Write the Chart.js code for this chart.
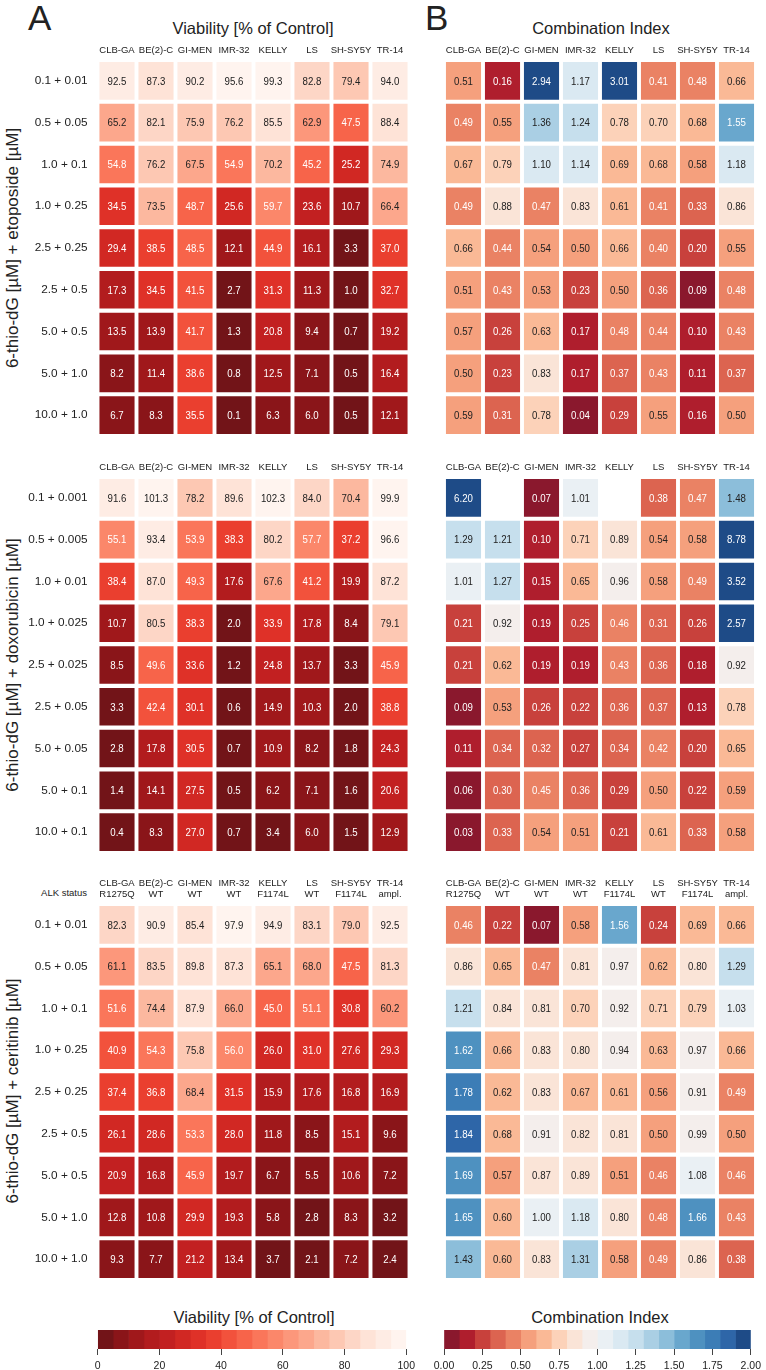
<!DOCTYPE html>
<html>
<head>
<meta charset="utf-8">
<script src="https://cdn.jsdelivr.net/npm/chart.js@4.4.1/dist/chart.umd.min.js"></script>
<style>
  body { margin: 0; background: #fff; width: 766px; height: 1370px; position: relative; overflow: hidden;
         font-family: 'Liberation Sans', Arial, sans-serif; color: #222; }
  .lbl { position: absolute; white-space: nowrap; line-height: 1; }
  .rot { position: absolute; white-space: nowrap; line-height: 1; font-size: 17px; transform: translate(-50%, -50%) rotate(-90deg); }
  canvas { position: absolute; }
</style>
</head>
<body>
<div class="lbl" style="left:28px;top:0;font-size:35px;">A</div>
<div class="lbl" style="left:425px;top:0;font-size:35px;">B</div>
<div class="lbl" style="left:253px;top:20px;font-size:16.5px;transform:translateX(-50%);">Viability [% of Control]</div>
<div class="lbl" style="left:601px;top:20px;font-size:16.5px;transform:translateX(-50%);">Combination Index</div>
<div class="rot" style="left:12px;top:248px;">6-thio-dG [µM] + etoposide [µM]</div>
<div class="rot" style="left:12px;top:665px;">6-thio-dG [µM] + doxorubicin [µM]</div>
<div class="rot" style="left:12px;top:1091px;">6-thio-dG [µM] + ceritinib [µM]</div>
<div class="lbl" style="left:87px;top:888px;font-size:9.5px;transform:translateX(-100%);">ALK status</div>
<div class="lbl" style="left:254px;top:1309px;font-size:16.5px;transform:translateX(-50%);">Viability [% of Control]</div>
<div class="lbl" style="left:600px;top:1309px;font-size:16.5px;transform:translateX(-50%);">Combination Index</div>

<canvas id="etoVia" width="420" height="424" style="left:0;top:30px"></canvas>
<canvas id="etoCI" width="346" height="424" style="left:420px;top:30px"></canvas>
<canvas id="doxVia" width="420" height="424" style="left:0;top:447px"></canvas>
<canvas id="doxCI" width="346" height="424" style="left:420px;top:447px"></canvas>
<canvas id="cerVia" width="420" height="439" style="left:0;top:859px"></canvas>
<canvas id="cerCI" width="346" height="439" style="left:420px;top:859px"></canvas>
<canvas id="viaBar" width="420" height="45" style="left:0;top:1325px"></canvas>
<canvas id="ciBar" width="346" height="45" style="left:420px;top:1325px"></canvas>

<script>
// cell lines
const cellLines = ['CLB-GA', 'BE(2)-C', 'GI-MEN', 'IMR-32', 'KELLY', 'LS', 'SH-SY5Y', 'TR-14'];
const alkStatus = ['R1275Q', 'WT', 'WT', 'WT', 'F1174L', 'WT', 'F1174L', 'ampl.'];

// dose combinations (6-thio-dG + partner)
const etoDoses = ['0.1 + 0.01', '0.5 + 0.05', '1.0 + 0.1', '1.0 + 0.25', '2.5 + 0.25', '2.5 + 0.5', '5.0 + 0.5', '5.0 + 1.0', '10.0 + 1.0'];
const doxDoses = ['0.1 + 0.001', '0.5 + 0.005', '1.0 + 0.01', '1.0 + 0.025', '2.5 + 0.025', '2.5 + 0.05', '5.0 + 0.05', '5.0 + 0.1', '10.0 + 0.1'];
const cerDoses = ['0.1 + 0.01', '0.5 + 0.05', '1.0 + 0.1', '1.0 + 0.25', '2.5 + 0.25', '2.5 + 0.5', '5.0 + 0.5', '5.0 + 1.0', '10.0 + 1.0'];

// viability [% of control], one row per dose
const etoViability = [
    [92.5, 87.3, 90.2, 95.6, 99.3, 82.8, 79.4, 94.0],
    [65.2, 82.1, 75.9, 76.2, 85.5, 62.9, 47.5, 88.4],
    [54.8, 76.2, 67.5, 54.9, 70.2, 45.2, 25.2, 74.9],
    [34.5, 73.5, 48.7, 25.6, 59.7, 23.6, 10.7, 66.4],
    [29.4, 38.5, 48.5, 12.1, 44.9, 16.1, 3.3, 37.0],
    [17.3, 34.5, 41.5, 2.7, 31.3, 11.3, 1.0, 32.7],
    [13.5, 13.9, 41.7, 1.3, 20.8, 9.4, 0.7, 19.2],
    [8.2, 11.4, 38.6, 0.8, 12.5, 7.1, 0.5, 16.4],
    [6.7, 8.3, 35.5, 0.1, 6.3, 6.0, 0.5, 12.1]
];
const doxViability = [
    [91.6, 101.3, 78.2, 89.6, 102.3, 84.0, 70.4, 99.9],
    [55.1, 93.4, 53.9, 38.3, 80.2, 57.7, 37.2, 96.6],
    [38.4, 87.0, 49.3, 17.6, 67.6, 41.2, 19.9, 87.2],
    [10.7, 80.5, 38.3, 2.0, 33.9, 17.8, 8.4, 79.1],
    [8.5, 49.6, 33.6, 1.2, 24.8, 13.7, 3.3, 45.9],
    [3.3, 42.4, 30.1, 0.6, 14.9, 10.3, 2.0, 38.8],
    [2.8, 17.8, 30.5, 0.7, 10.9, 8.2, 1.8, 24.3],
    [1.4, 14.1, 27.5, 0.5, 6.2, 7.1, 1.6, 20.6],
    [0.4, 8.3, 27.0, 0.7, 3.4, 6.0, 1.5, 12.9]
];
const cerViability = [
    [82.3, 90.9, 85.4, 97.9, 94.9, 83.1, 79.0, 92.5],
    [61.1, 83.5, 89.8, 87.3, 65.1, 68.0, 47.5, 81.3],
    [51.6, 74.4, 87.9, 66.0, 45.0, 51.1, 30.8, 60.2],
    [40.9, 54.3, 75.8, 56.0, 26.0, 31.0, 27.6, 29.3],
    [37.4, 36.8, 68.4, 31.5, 15.9, 17.6, 16.8, 16.9],
    [26.1, 28.6, 53.3, 28.0, 11.8, 8.5, 15.1, 9.6],
    [20.9, 16.8, 45.9, 19.7, 6.7, 5.5, 10.6, 7.2],
    [12.8, 10.8, 29.9, 19.3, 5.8, 2.8, 8.3, 3.2],
    [9.3, 7.7, 21.2, 13.4, 3.7, 2.1, 7.2, 2.4]
];

// combination index, one row per dose (null = not determined)
const etoCI = [
    [0.51, 0.16, 2.94, 1.17, 3.01, 0.41, 0.48, 0.66],
    [0.49, 0.55, 1.36, 1.24, 0.78, 0.70, 0.68, 1.55],
    [0.67, 0.79, 1.10, 1.14, 0.69, 0.68, 0.58, 1.18],
    [0.49, 0.88, 0.47, 0.83, 0.61, 0.41, 0.33, 0.86],
    [0.66, 0.44, 0.54, 0.50, 0.66, 0.40, 0.20, 0.55],
    [0.51, 0.43, 0.53, 0.23, 0.50, 0.36, 0.09, 0.48],
    [0.57, 0.26, 0.63, 0.17, 0.48, 0.44, 0.10, 0.43],
    [0.50, 0.23, 0.83, 0.17, 0.37, 0.43, 0.11, 0.37],
    [0.59, 0.31, 0.78, 0.04, 0.29, 0.55, 0.16, 0.50]
];
const doxCI = [
    [6.20, null, 0.07, 1.01, null, 0.38, 0.47, 1.48],
    [1.29, 1.21, 0.10, 0.71, 0.89, 0.54, 0.58, 8.78],
    [1.01, 1.27, 0.15, 0.65, 0.96, 0.58, 0.49, 3.52],
    [0.21, 0.92, 0.19, 0.25, 0.46, 0.31, 0.26, 2.57],
    [0.21, 0.62, 0.19, 0.19, 0.43, 0.36, 0.18, 0.92],
    [0.09, 0.53, 0.26, 0.22, 0.36, 0.37, 0.13, 0.78],
    [0.11, 0.34, 0.32, 0.27, 0.34, 0.42, 0.20, 0.65],
    [0.06, 0.30, 0.45, 0.36, 0.29, 0.50, 0.22, 0.59],
    [0.03, 0.33, 0.54, 0.51, 0.21, 0.61, 0.33, 0.58]
];
const cerCI = [
    [0.46, 0.22, 0.07, 0.58, 1.56, 0.24, 0.69, 0.66],
    [0.86, 0.65, 0.47, 0.81, 0.97, 0.62, 0.80, 1.29],
    [1.21, 0.84, 0.81, 0.70, 0.92, 0.71, 0.79, 1.03],
    [1.62, 0.66, 0.83, 0.80, 0.94, 0.63, 0.97, 0.66],
    [1.78, 0.62, 0.83, 0.67, 0.61, 0.56, 0.91, 0.49],
    [1.84, 0.68, 0.91, 0.82, 0.81, 0.50, 0.99, 0.50],
    [1.69, 0.57, 0.87, 0.89, 0.51, 0.46, 1.08, 0.46],
    [1.65, 0.60, 1.00, 1.18, 0.80, 0.48, 1.66, 0.43],
    [1.43, 0.60, 0.83, 1.31, 0.58, 0.49, 0.86, 0.38]
];

// colour bar ticks
const viaTicks = [0, 20, 40, 60, 80, 100];
const ciTicks = [0, 0.25, 0.5, 0.75, 1, 1.25, 1.5, 1.75, 2];

// 20-step palettes
const redColors = ['#721418', '#8a1519', '#a0181b', '#b21c1e', '#c22021', '#d12823', '#df3128', '#ea3f2f', '#f2523c', '#f7644a',
                   '#fa765a', '#fb876a', '#fc977b', '#fca78c', '#fcb89f', '#fdc8b3', '#fdd6c6', '#fee3d7', '#feece4', '#fff4ef'];
const rdbuColors = ['#8a182d', '#af1e2d', '#c8413c', '#dc6450', '#ea8264', '#f5a07d', '#fab996', '#fcd2b9', '#fae4d7', '#f4eeec',
                    '#eaf0f4', '#dae9f2', '#c6dfed', '#aacfe4', '#8cbeda', '#69a7cd', '#4e91c0', '#3c7db6', '#2e66a8', '#1e4b87'];

const REGULAR = "'Liberation Sans', Arial, sans-serif";
Chart.defaults.font.family = REGULAR;
Chart.defaults.color = '#222';

const viaScale = { min: 0, max: 100, colors: redColors, digits: 1, light: v => v < 60 };
const ciScale = { min: 0, max: 2, colors: rdbuColors, digits: 2, light: v => v < 0.5 || v >= 1.5 };

function binColor(v, sc) {
    const n = sc.colors.length;
    const step = (sc.max - sc.min) / n;
    let k = Math.floor((v - sc.min) / step + 1e-6);
    k = Math.max(0, Math.min(n - 1, k));
    return sc.colors[k];
}

// writes the value into each cell (condensed, like the original figure)
const cellText = {
    id: 'cellText',
    afterDatasetsDraw(chart, args, opts) {
        const ctx = chart.ctx;
        chart.data.datasets.forEach((ds, i) => {
            chart.getDatasetMeta(i).data.forEach((el, j) => {
                const v = ds.values[j];
                if (v === null) return;
                ctx.save();
                ctx.font = '11.8px ' + REGULAR;
                ctx.textAlign = 'center';
                ctx.textBaseline = 'middle';
                ctx.fillStyle = opts.scale.light(v) ? '#fff' : '#222';
                ctx.translate(el.x, (el.y + el.base) / 2 + 0.5);
                ctx.scale(0.82, 1);
                ctx.fillText(v.toFixed(opts.scale.digits), 0, 0);
                ctx.restore();
            });
        });
    }
};

function heatmap(id, rows, values, sc, opts) {
    const cols = opts.alk ? cellLines.map((c, j) => [c, alkStatus[j]]) : cellLines;
    const datasets = values.map((row, i) => ({
        values: row,
        data: row.map(v => v === null ? null : [i - 0.45, i + 0.45]),
        backgroundColor: row.map(v => v === null ? 'rgba(0,0,0,0)' : binColor(v, sc)),
        grouped: false,
        barPercentage: 0.9,
        categoryPercentage: 1
    }));
    new Chart(document.getElementById(id), {
        type: 'bar',
        data: { labels: cols, datasets: datasets },
        plugins: [cellText],
        options: {
            responsive: false,
            animation: false,
            layout: { padding: { left: opts.showRows ? 0 : 24, right: opts.showRows ? 10.5 : 10, top: 0, bottom: 18 } },
            plugins: { legend: { display: false }, tooltip: { enabled: false }, cellText: { scale: sc } },
            scales: {
                x: {
                    type: 'category',
                    position: 'top',
                    grid: { display: false, drawTicks: false },
                    border: { display: false },
                    ticks: { font: { size: 9.5 }, color: '#222', padding: 4, maxRotation: 0, autoSkip: false },
                    afterFit: s => { s.height = opts.header; }
                },
                y: {
                    type: 'linear',
                    display: opts.showRows,
                    reverse: true,
                    min: -0.5,
                    max: rows.length - 0.5,
                    grid: { display: false, drawTicks: false },
                    border: { display: false },
                    afterBuildTicks: s => { s.ticks = rows.map((r, i) => ({ value: i })); },
                    ticks: { font: { size: 11.8 }, color: '#222', padding: 10, callback: v => rows[v] },
                    afterFit: s => { if (opts.showRows) s.width = 97.5; }
                }
            }
        }
    });
}

function colorbar(id, sc, ticks, padLeft, padRight) {
    const n = sc.colors.length;
    const step = (sc.max - sc.min) / n;
    const datasets = sc.colors.map((c, k) => ({
        data: [[sc.min + k * step, sc.min + (k + 1) * step]],
        backgroundColor: c,
        grouped: false,
        barPercentage: 1,
        categoryPercentage: 1
    }));
    new Chart(document.getElementById(id), {
        type: 'bar',
        data: { labels: [''], datasets: datasets },
        options: {
            indexAxis: 'y',
            responsive: false,
            animation: false,
            layout: { padding: { left: padLeft, right: padRight, top: 5, bottom: 0 } },
            plugins: { legend: { display: false }, tooltip: { enabled: false } },
            scales: {
                y: { display: false },
                x: {
                    type: 'linear',
                    min: sc.min,
                    max: sc.max,
                    grid: { drawOnChartArea: false, drawTicks: true, tickLength: 6, color: '#444' },
                    border: { display: false },
                    afterBuildTicks: s => { s.ticks = ticks.map(v => ({ value: v })); },
                    ticks: { font: { size: 10.5 }, color: '#222', padding: 5, callback: v => v.toFixed(sc.digits === 1 ? 0 : 2) },
                    afterFit: s => { s.height = 21; }
                }
            }
        }
    });
}

heatmap('etoVia', etoDoses, etoViability, viaScale, { showRows: true, header: 30 });
heatmap('etoCI', etoDoses, etoCI, ciScale, { showRows: false, header: 30 });
heatmap('doxVia', doxDoses, doxViability, viaScale, { showRows: true, header: 30 });
heatmap('doxCI', doxDoses, doxCI, ciScale, { showRows: false, header: 30 });
heatmap('cerVia', cerDoses, cerViability, viaScale, { showRows: true, header: 45, alk: true });
heatmap('cerCI', cerDoses, cerCI, ciScale, { showRows: false, header: 45, alk: true });

colorbar('viaBar', viaScale, viaTicks, 97.7, 10);
colorbar('ciBar', ciScale, ciTicks, 24, 9);
</script>
</body>
</html>
